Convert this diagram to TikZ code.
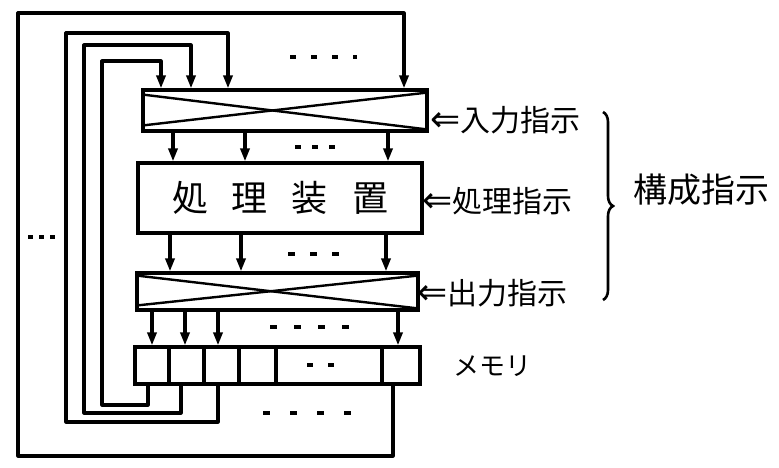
\documentclass[tikz,border=0pt]{standalone}
\usepackage{fontspec}
\newfontfamily\jp{Noto Sans CJK JP}
\newfontfamily\dv{DejaVu Sans}
\usetikzlibrary{arrows.meta,decorations.pathreplacing}
\begin{document}
\begin{tikzpicture}[x=1pt,y=-1pt,
  ln/.style={line width=3.2pt, line join=round, line cap=round},
  box/.style={draw, line width=3.2pt, rectangle, inner sep=0pt},
  cross/.style={line width=2.4pt},
  arr/.style={ln, -{Triangle[length=13pt,width=9pt]}},
  dotsline/.style={line width=3.4pt},
  lbl/.style={anchor=west, inner sep=0pt, font=\jp\fontsize{30}{30}\selectfont}]
\useasboundingbox (0,0) rectangle (779,467);
% boxes
\node[box, minimum width=284pt, minimum height=41pt] (inmux) at (285,110.5) {};
\draw[cross] ([yshift=-6pt]inmux.north west) -- ([yshift=3pt]inmux.south east);
\draw[cross] ([yshift=7pt]inmux.south west) -- ([yshift=-4pt]inmux.north east);
\node[box, minimum width=284pt, minimum height=70pt, font=\jp\fontsize{36}{36}\selectfont] (proc) at (280,198)
  {処\hspace{24pt}理\hspace{24pt}装\hspace{24pt}置};
\node[box, minimum width=281pt, minimum height=37pt] (outmux) at (277.5,291.5) {};
\draw[cross] ([yshift=-4pt]outmux.north west) -- ([yshift=3pt]outmux.south east);
\draw[cross] ([yshift=6pt]outmux.south west) -- ([yshift=-4pt]outmux.north east);
% memory cells
\node[box, minimum width=34pt, minimum height=37pt] (m1) at (152,365.5) {};
\node[box, minimum width=35pt, minimum height=37pt] (m2) at (186.5,365.5) {};
\node[box, minimum width=35pt, minimum height=37pt] (m3) at (221.5,365.5) {};
\node[box, minimum width=37pt, minimum height=37pt] (m4) at (257.5,365.5) {};
\node[box, minimum width=106pt, minimum height=37pt] (m5) at (329,365.5) {};
\node[box, minimum width=38pt, minimum height=37pt] (m6) at (401,365.5) {};
% column coordinates
\coordinate (e1) at (173,0); \coordinate (e2) at (245,0); \coordinate (e3) at (388,0);
\coordinate (f1) at (170,0); \coordinate (f2) at (241,0); \coordinate (f3) at (386,0);
\coordinate (d1) at (152,0); \coordinate (d2) at (185,0); \coordinate (d3) at (218,0); \coordinate (d6) at (398,0);
\coordinate (b1) at (148,0); \coordinate (b2) at (181,0); \coordinate (b3) at (218,0); \coordinate (b6) at (393,0);
% loop corners
\coordinate (k4) at (102,405); \coordinate (t4) at (161,61);
\coordinate (k3) at (84,413);  \coordinate (t3) at (191,45);
\coordinate (k2) at (66,422);  \coordinate (t2) at (228,33);
\coordinate (k1) at (18,456);  \coordinate (t1) at (404,13);
% arrows between stages
\foreach \c in {e1,e2,e3} \draw[arr] (inmux.south -| \c) -- (proc.north -| \c);
\foreach \c in {f1,f2,f3} \draw[arr] (proc.south -| \c) -- (outmux.north -| \c);
\draw[arr] (outmux.south -| d1) -- (m1.north -| d1);
\draw[arr] (outmux.south -| d2) -- (m2.north -| d2);
\draw[arr] (outmux.south -| d3) -- (m3.north -| d3);
\draw[arr] (outmux.south -| d6) -- (m6.north -| d6);
% feedback loops
\draw[arr] (m1.south -| b1) |- (k4) |- (t4) -- (inmux.north -| t4);
\draw[arr] (m2.south -| b2) |- (k3) |- (t3) -- (inmux.north -| t3);
\draw[arr] (m3.south -| b3) |- (k2) |- (t2) -- (inmux.north -| t2);
\draw[arr] (m6.south -| b6) |- (k1) |- (t1) -- (inmux.north -| t1);
% ellipsis dashes
\draw[dotsline, dash pattern=on 6pt off 15pt] (290,57) -- (357,57);
\draw[dotsline, dash pattern=on 6pt off 11pt] (295,147) -- (337,147);
\draw[dotsline, dash pattern=on 7pt off 15pt] (288,254) -- (339,254);
\draw[dotsline, dash pattern=on 7pt off 17pt] (270,327) -- (353,327);
\draw[dotsline, dash pattern=on 6pt off 15pt] (307,365) -- (334,365);
\draw[dotsline, dash pattern=on 7pt off 20pt] (263,413) -- (351,413);
\draw[dotsline, dash pattern=on 5pt off 6pt] (28,237) -- (55,237);
% labels
\node[lbl] (lin) at (430,120) {{\dv\fontsize{36}{36}\selectfont ⇐}入力指示};
\node[lbl] (lproc) at (422,201) {{\dv\fontsize{36}{36}\selectfont ⇐}処理指示};
\node[lbl] (lout) at (417,293) {{\dv\fontsize{36}{36}\selectfont ⇐}出力指示};
\coordinate (br1) at (603,112); \coordinate (br2) at (603,300);
\draw[line width=2.6pt, decorate, decoration={brace, amplitude=10pt}] (br1) -- (br2);
\node[inner sep=0pt, font=\jp\fontsize{34}{34}\selectfont] (lall) at (701,190) {構成指示};
\node[inner sep=0pt, font=\jp\fontsize{26}{26}\selectfont] (lmem) at (492,366) {メモリ};
\end{tikzpicture}
\end{document}
